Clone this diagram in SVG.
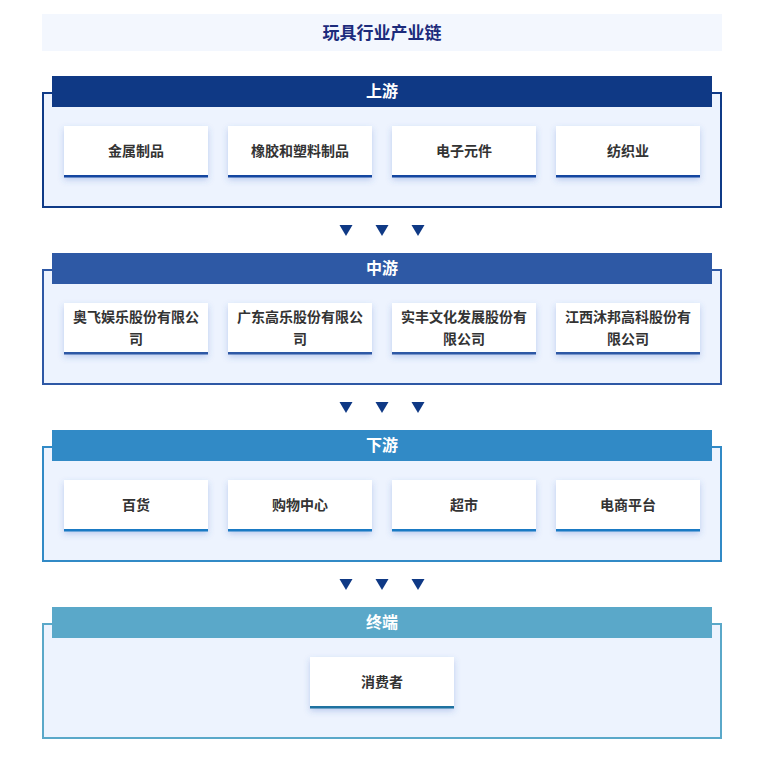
<svg xmlns="http://www.w3.org/2000/svg" width="761" height="765" viewBox="0 0 761 765">
<defs>
<filter id="sh" x="-20%" y="-30%" width="140%" height="170%">
<feDropShadow dx="0" dy="3" stdDeviation="3" flood-color="#3a64c4" flood-opacity="0.28"/>
</filter>
</defs>
<style>
.t{font-family:"Noto Sans CJK SC","Noto Sans",sans-serif;}
.title{font-size:17px;font-weight:bold;fill:#1c2b7c;}
.hd{font-size:16px;font-weight:bold;fill:#ffffff;}
.ct{font-size:14px;font-weight:bold;fill:#333333;}
.box{fill:#edf3fe;stroke-width:2;}
.card{fill:#ffffff;filter:url(#sh);}
.arr{fill:#0f3985;}
</style>
<rect width="761" height="765" fill="#ffffff"/>
<g id="title">
<rect x="42" y="14" width="680" height="37" fill="#f3f7fe"/>
<text class="t title" x="382" y="31.5" text-anchor="middle" dominant-baseline="central">玩具行业产业链</text>
</g>

<g id="upstream">
<rect class="box" x="43" y="93" width="678" height="114" stroke="#0f3a87"/>
<rect x="52" y="76" width="660" height="31" fill="#0f3985"/>
<text class="t hd" x="382" y="90" text-anchor="middle" dominant-baseline="central">上游</text>
<g id="u1"><rect class="card" x="64" y="126" width="144" height="51"/><rect x="64" y="175" width="144" height="2.5" fill="#1446a0"/><text class="t ct" x="136" y="150" text-anchor="middle" dominant-baseline="central">金属制品</text></g>
<g id="u2"><rect class="card" x="228" y="126" width="144" height="51"/><rect x="228" y="175" width="144" height="2.5" fill="#1446a0"/><text class="t ct" x="300" y="150" text-anchor="middle" dominant-baseline="central">橡胶和塑料制品</text></g>
<g id="u3"><rect class="card" x="392" y="126" width="144" height="51"/><rect x="392" y="175" width="144" height="2.5" fill="#1446a0"/><text class="t ct" x="464" y="150" text-anchor="middle" dominant-baseline="central">电子元件</text></g>
<g id="u4"><rect class="card" x="556" y="126" width="144" height="51"/><rect x="556" y="175" width="144" height="2.5" fill="#1446a0"/><text class="t ct" x="628" y="150" text-anchor="middle" dominant-baseline="central">纺织业</text></g>
</g>

<g id="midstream">
<rect class="box" x="43" y="270" width="678" height="114" stroke="#2e58a5"/>
<rect x="52" y="253" width="660" height="31" fill="#2e59a5"/>
<text class="t hd" x="382" y="267" text-anchor="middle" dominant-baseline="central">中游</text>
<g id="m1"><rect class="card" x="64" y="303" width="144" height="51"/><rect x="64" y="352" width="144" height="2.5" fill="#2e58a5"/><text class="t ct" x="136" y="316" text-anchor="middle" dominant-baseline="central">奥飞娱乐股份有限公</text><text class="t ct" x="136" y="338" text-anchor="middle" dominant-baseline="central">司</text></g>
<g id="m2"><rect class="card" x="228" y="303" width="144" height="51"/><rect x="228" y="352" width="144" height="2.5" fill="#2e58a5"/><text class="t ct" x="300" y="316" text-anchor="middle" dominant-baseline="central">广东高乐股份有限公</text><text class="t ct" x="300" y="338" text-anchor="middle" dominant-baseline="central">司</text></g>
<g id="m3"><rect class="card" x="392" y="303" width="144" height="51"/><rect x="392" y="352" width="144" height="2.5" fill="#2e58a5"/><text class="t ct" x="464" y="316" text-anchor="middle" dominant-baseline="central">实丰文化发展股份有</text><text class="t ct" x="464" y="338" text-anchor="middle" dominant-baseline="central">限公司</text></g>
<g id="m4"><rect class="card" x="556" y="303" width="144" height="51"/><rect x="556" y="352" width="144" height="2.5" fill="#2e58a5"/><text class="t ct" x="628" y="316" text-anchor="middle" dominant-baseline="central">江西沐邦高科股份有</text><text class="t ct" x="628" y="338" text-anchor="middle" dominant-baseline="central">限公司</text></g>
</g>

<g id="downstream">
<rect class="box" x="43" y="447" width="678" height="114" stroke="#318ac6"/>
<rect x="52" y="430" width="660" height="31" fill="#318ac6"/>
<text class="t hd" x="382" y="444" text-anchor="middle" dominant-baseline="central">下游</text>
<g id="d1"><rect class="card" x="64" y="480" width="144" height="51"/><rect x="64" y="529" width="144" height="2.5" fill="#1a7ac4"/><text class="t ct" x="136" y="504" text-anchor="middle" dominant-baseline="central">百货</text></g>
<g id="d2"><rect class="card" x="228" y="480" width="144" height="51"/><rect x="228" y="529" width="144" height="2.5" fill="#1a7ac4"/><text class="t ct" x="300" y="504" text-anchor="middle" dominant-baseline="central">购物中心</text></g>
<g id="d3"><rect class="card" x="392" y="480" width="144" height="51"/><rect x="392" y="529" width="144" height="2.5" fill="#1a7ac4"/><text class="t ct" x="464" y="504" text-anchor="middle" dominant-baseline="central">超市</text></g>
<g id="d4"><rect class="card" x="556" y="480" width="144" height="51"/><rect x="556" y="529" width="144" height="2.5" fill="#1a7ac4"/><text class="t ct" x="628" y="504" text-anchor="middle" dominant-baseline="central">电商平台</text></g>
</g>

<g id="terminal">
<rect class="box" x="43" y="624" width="678" height="114" stroke="#5aa8c9"/>
<rect x="52" y="607" width="660" height="31" fill="#5aa8c9"/>
<text class="t hd" x="382" y="621" text-anchor="middle" dominant-baseline="central">终端</text>
<g id="t1"><rect class="card" x="310" y="657" width="144" height="51"/><rect x="310" y="706" width="144" height="2.5" fill="#1f72a0"/><text class="t ct" x="382" y="681" text-anchor="middle" dominant-baseline="central">消费者</text></g>
</g>

<g id="connectors">
<polygon class="arr" points="339.5,225 352.5,225 346,236"/>
<polygon class="arr" points="375.5,225 388.5,225 382,236"/>
<polygon class="arr" points="411.5,225 424.5,225 418,236"/>
<polygon class="arr" points="339.5,402 352.5,402 346,413"/>
<polygon class="arr" points="375.5,402 388.5,402 382,413"/>
<polygon class="arr" points="411.5,402 424.5,402 418,413"/>
<polygon class="arr" points="339.5,579 352.5,579 346,590"/>
<polygon class="arr" points="375.5,579 388.5,579 382,590"/>
<polygon class="arr" points="411.5,579 424.5,579 418,590"/>
</g>
</svg>
